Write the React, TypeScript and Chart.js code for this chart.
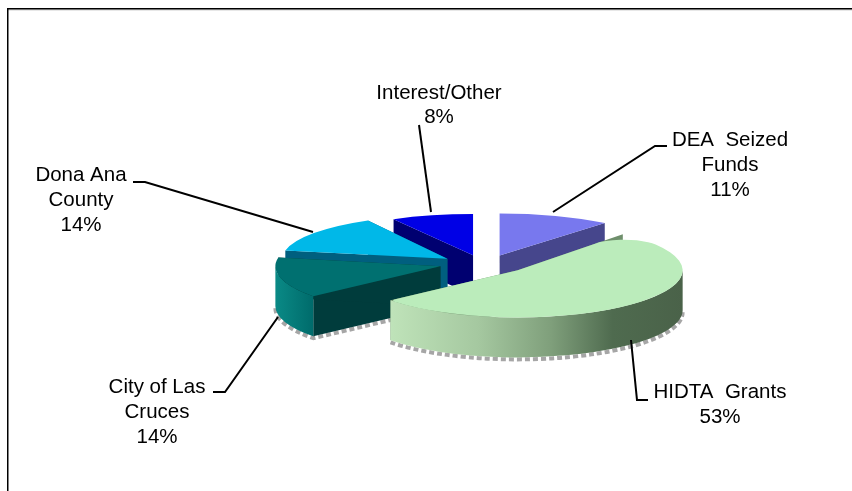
import React, { useEffect, useRef } from "react";
import { Chart, registerables } from "chart.js";

Chart.register(...registerables);

const categories = ["DEA Seized Funds", "HIDTA Grants", "City of Las Cruces", "Dona Ana County", "Interest/Other"];
const shares = [11, 53, 14, 14, 8];
const topColors = ["#7878ee", "#bbecbb", "#007070", "#00b8e8", "#0000e6"];
const cutColors = ["#46468c", "#6f8f6c", "#003c3c", "#005f7f", "#000070"];
const drawOrder = [4, 0, 3, 2, 1];
const squash = [0.255, 0.285, 0.285, 0.265, 0.25];
const explodeX = [49, 49, 44, 44, 40];
const cornerRounding = [0, { outerStart: 38, outerEnd: 6, innerStart: 0, innerEnd: 0 }, 0, 0, 0];

const FONT = '20.5px "Liberation Sans", Arial, sans-serif';
const DEPTH = 40;
const EXPLODE_Y = 9;

const labelBlocks = [
  { lines: ["DEA  Seized", "Funds", "11%"], x: 730, y: 140, gap: 25, leader: [[553, 212], [655, 146], [667, 146]] },
  { lines: ["HIDTA  Grants", "53%"], x: 720, y: 392, gap: 25, leader: [[631, 340], [637, 400], [648, 400]] },
  { lines: ["City of Las", "Cruces", "14%"], x: 157, y: 387, gap: 25, leader: [[278, 317], [225, 392], [213, 392]] },
  { lines: ["Dona Ana", "County", "14%"], x: 81, y: 175, gap: 25, leader: [[313, 232], [145, 182], [133, 182]] },
  { lines: ["Interest/Other", "8%"], x: 439, y: 93, gap: 24, leader: [[431, 212], [419, 125]] },
];

const pie3d = {
  id: "pie3d",
  beforeDatasetsDraw(chart: any) {
    const ctx = chart.ctx as CanvasRenderingContext2D;
    const arcs = chart.getDatasetMeta(0).data;
    const geo = (a: any, i: number) => {
      const p = a.getProps(["x", "y", "startAngle", "endAngle", "outerRadius"], true);
      const mid = (p.startAngle + p.endAngle) / 2;
      return { ...p, cx: p.x + Math.cos(mid) * explodeX[i], cy: p.y + Math.sin(mid) * EXPLODE_Y, ry: p.outerRadius * squash[i] };
    };
    const rimPath = (g: any, a0: number, a1: number) => {
      ctx.beginPath();
      ctx.ellipse(g.cx, g.cy, g.outerRadius, g.ry, 0, a0, a1);
      ctx.lineTo(g.cx + Math.cos(a1) * g.outerRadius, g.cy + Math.sin(a1) * g.ry + DEPTH);
      ctx.ellipse(g.cx, g.cy + DEPTH, g.outerRadius, g.ry, 0, a1, a0, true);
      ctx.closePath();
    };
    drawOrder.forEach((i) => {
      const g = geo(arcs[i], i);
      const a0 = Math.max(g.startAngle, 0);
      const a1 = Math.min(g.endAngle, Math.PI);
      if (a1 > a0) {
        ctx.save();
        ctx.beginPath();
        ctx.ellipse(g.cx, g.cy + DEPTH + 2, g.outerRadius, g.ry, 0, a1, a0, true);
        if (i === 2) ctx.lineTo(g.cx, g.cy + DEPTH + 2);
        ctx.setLineDash([5, 3]);
        ctx.lineWidth = 4;
        ctx.strokeStyle = "#a6a6a6";
        ctx.stroke();
        ctx.restore();
      }
      [g.startAngle, g.endAngle].forEach((t: number) => {
        const ex = g.cx + Math.cos(t) * g.outerRadius;
        const ey = g.cy + Math.sin(t) * g.ry;
        ctx.beginPath();
        ctx.moveTo(g.cx, g.cy);
        ctx.lineTo(ex, ey);
        ctx.lineTo(ex, ey + DEPTH);
        ctx.lineTo(g.cx, g.cy + DEPTH);
        ctx.closePath();
        ctx.fillStyle = cutColors[i];
        ctx.fill();
      });
      if (a1 > a0) {
        const grad = ctx.createLinearGradient(g.cx + Math.cos(a1) * g.outerRadius, 0, g.cx + Math.cos(a0) * g.outerRadius, 0);
        if (i === 1) {
          grad.addColorStop(0, "#bfe3b9");
          grad.addColorStop(0.3, "#a5c8a0");
          grad.addColorStop(0.55, "#7f9f7b");
          grad.addColorStop(0.76, "#4f6b4f");
          grad.addColorStop(1, "#4a6249");
        } else {
          grad.addColorStop(0, "#0a8a86");
          grad.addColorStop(1, "#006b6b");
        }
        rimPath(g, a0, a1);
        ctx.fillStyle = grad;
        ctx.fill();
      }
      ctx.save();
      ctx.translate(g.cx, g.cy);
      ctx.scale(1, squash[i]);
      ctx.translate(-g.x, -g.y);
      arcs[i].draw(ctx);
      ctx.restore();
    });
    return false;
  },
  afterDraw(chart: any) {
    const ctx = chart.ctx as CanvasRenderingContext2D;
    ctx.save();
    ctx.fillStyle = "#cfcfcf";
    ctx.fillRect(8, 9.5, 844, 1);
    ctx.fillStyle = "#000";
    ctx.fillRect(7, 8, 845, 1.5);
    ctx.fillRect(7, 8, 1.5, 483);
    ctx.strokeStyle = "#000";
    ctx.lineWidth = 2;
    labelBlocks.forEach((b) => {
      ctx.beginPath();
      b.leader.forEach(([x, y], k) => (k ? ctx.lineTo(x, y) : ctx.moveTo(x, y)));
      ctx.stroke();
      ctx.font = FONT;
      ctx.textAlign = "center";
      ctx.textBaseline = "middle";
      b.lines.forEach((t, k) => ctx.fillText(t, b.x, b.y + k * b.gap));
    });
    ctx.restore();
  },
};

export default function App() {
  const ref = useRef<HTMLCanvasElement | null>(null);
  useEffect(() => {
    const chart = new Chart(ref.current as HTMLCanvasElement, {
      type: "pie",
      data: {
        labels: categories,
        datasets: [{ data: shares, backgroundColor: topColors, borderWidth: 0, radius: 165, borderRadius: cornerRounding } as any],
      },
      options: {
        responsive: false,
        animation: false,
        events: [],
        layout: { padding: { left: 114, top: 37 } },
        plugins: { legend: { display: false }, tooltip: { enabled: false }, title: { display: false } },
      },
      plugins: [pie3d as any],
    });
    return () => chart.destroy();
  }, []);
  return (
    <div style={{ position: "absolute", left: 0, top: 0, width: 852, height: 491, overflow: "hidden", background: "#fff" }}>
      <canvas ref={ref} width={852} height={491} style={{ display: "block" }} />
    </div>
  );
}
